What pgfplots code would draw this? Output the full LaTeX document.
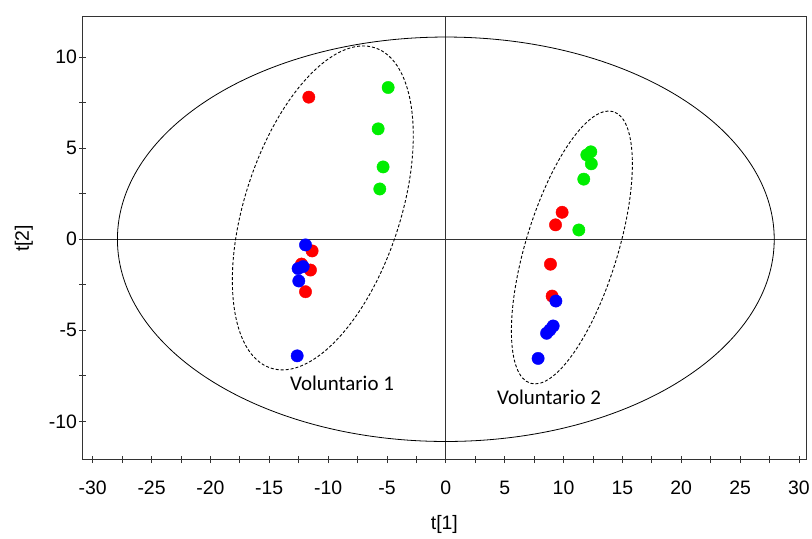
\documentclass[border=0pt]{standalone}
\usepackage{fontspec}
\setmainfont{Liberation Sans}
\newfontfamily\calibri{Carlito}
\usepackage{pgfplots}
\pgfplotsset{compat=1.18}
\definecolor{ptred}{RGB}{255,0,0}
\definecolor{ptgreen}{RGB}{0,238,0}
\definecolor{ptblue}{RGB}{0,0,255}
\begin{document}
\begin{tikzpicture}
\begin{axis}[
  at={(0,0)}, anchor=south west,
  scale only axis, width=723.3bp, height=442.7bp,
  xmin=-30.85, xmax=30.6, ymin=-12.1, ymax=12.2,
  xtick={-30,-25,...,30}, ytick={-10,-5,0,5,10},
  minor x tick num=1, minor y tick num=1,
  tick align=center, major tick length=7bp, minor tick length=7bp,
  xtick pos=left, ytick pos=left,
  axis line style={black!80, line width=1bp},
  tick style={black!80, line width=0.8bp},
  /pgf/number format/assume math mode=true,
  tick label style={font=\fontsize{19.5}{19.5}\selectfont},
  xticklabel style={anchor=north, inner sep=0pt, yshift=-18bp},
  yticklabel style={anchor=east, inner sep=0pt, xshift=-2bp},
  label style={font=\fontsize{19.5}{19.5}\selectfont},
  xlabel={t[1]}, ylabel={t[2]},
  x label style={at={(axis description cs:0.5,-0.1452)}, anchor=center},
  y label style={at={(axis description cs:-0.0812,0.5)}, anchor=center, rotate=0},
]
% origin lines
\draw[black!80, line width=0.9bp] (axis cs:-30.85,0) -- (axis cs:30.6,0);
\draw[black!80, line width=0.9bp] (axis cs:0,-12.1) -- (axis cs:0,12.2);
% Hotelling ellipse
\draw[black, line width=0.8bp] (axis cs:0,0) ellipse [x radius=27.9, y radius=11.1];
% group ellipses
\draw[black, line width=0.9bp, dash pattern=on 3bp off 2bp, rotate around={72:(axis cs:-10.45,1.72)}]
  (axis cs:-10.45,1.72) ellipse [x radius=168.4bp, y radius=77.8bp];
\draw[black, line width=0.9bp, dash pattern=on 3bp off 2bp, rotate around={73:(axis cs:10.71,-0.45)}]
  (axis cs:10.71,-0.45) ellipse [x radius=142bp, y radius=46bp];
% data
\addplot[only marks, mark=*, mark size=6.2pt, color=ptgreen] coordinates {
  (-4.90,8.33) (-5.75,6.06) (-5.33,3.97) (-5.61,2.76)
  (11.98,4.63) (12.32,4.80) (12.36,4.14) (11.72,3.30) (11.30,0.51)
};
\addplot[only marks, mark=*, mark size=6.2pt, color=ptred] coordinates {
  (-11.64,7.80) (-11.36,-0.64) (-12.26,-1.36) (-11.50,-1.69) (-11.92,-2.88)
  (9.88,1.48) (9.32,0.79) (8.89,-1.37) (9.03,-3.12)
};
\addplot[only marks, mark=*, mark size=6.2pt, color=ptblue] coordinates {
  (-11.92,-0.31) (-12.12,-1.50) (-12.55,-1.61) (-12.49,-2.29) (-12.63,-6.40)
  (9.35,-3.39) (9.12,-4.76) (8.84,-4.98) (8.56,-5.16) (7.84,-6.54)
};
\node[font=\calibri\fontsize{21}{21}\selectfont, anchor=base, inner sep=0pt] at (axis cs:-8.82,-8.28) {Voluntario 1};
\node[font=\calibri\fontsize{21}{21}\selectfont, anchor=base, inner sep=0pt] at (axis cs:8.77,-9.05) {Voluntario 2};
\end{axis}
\path (-82.7bp,-79.3bp) rectangle (729.3bp,459.7bp);
\end{tikzpicture}
\end{document}
